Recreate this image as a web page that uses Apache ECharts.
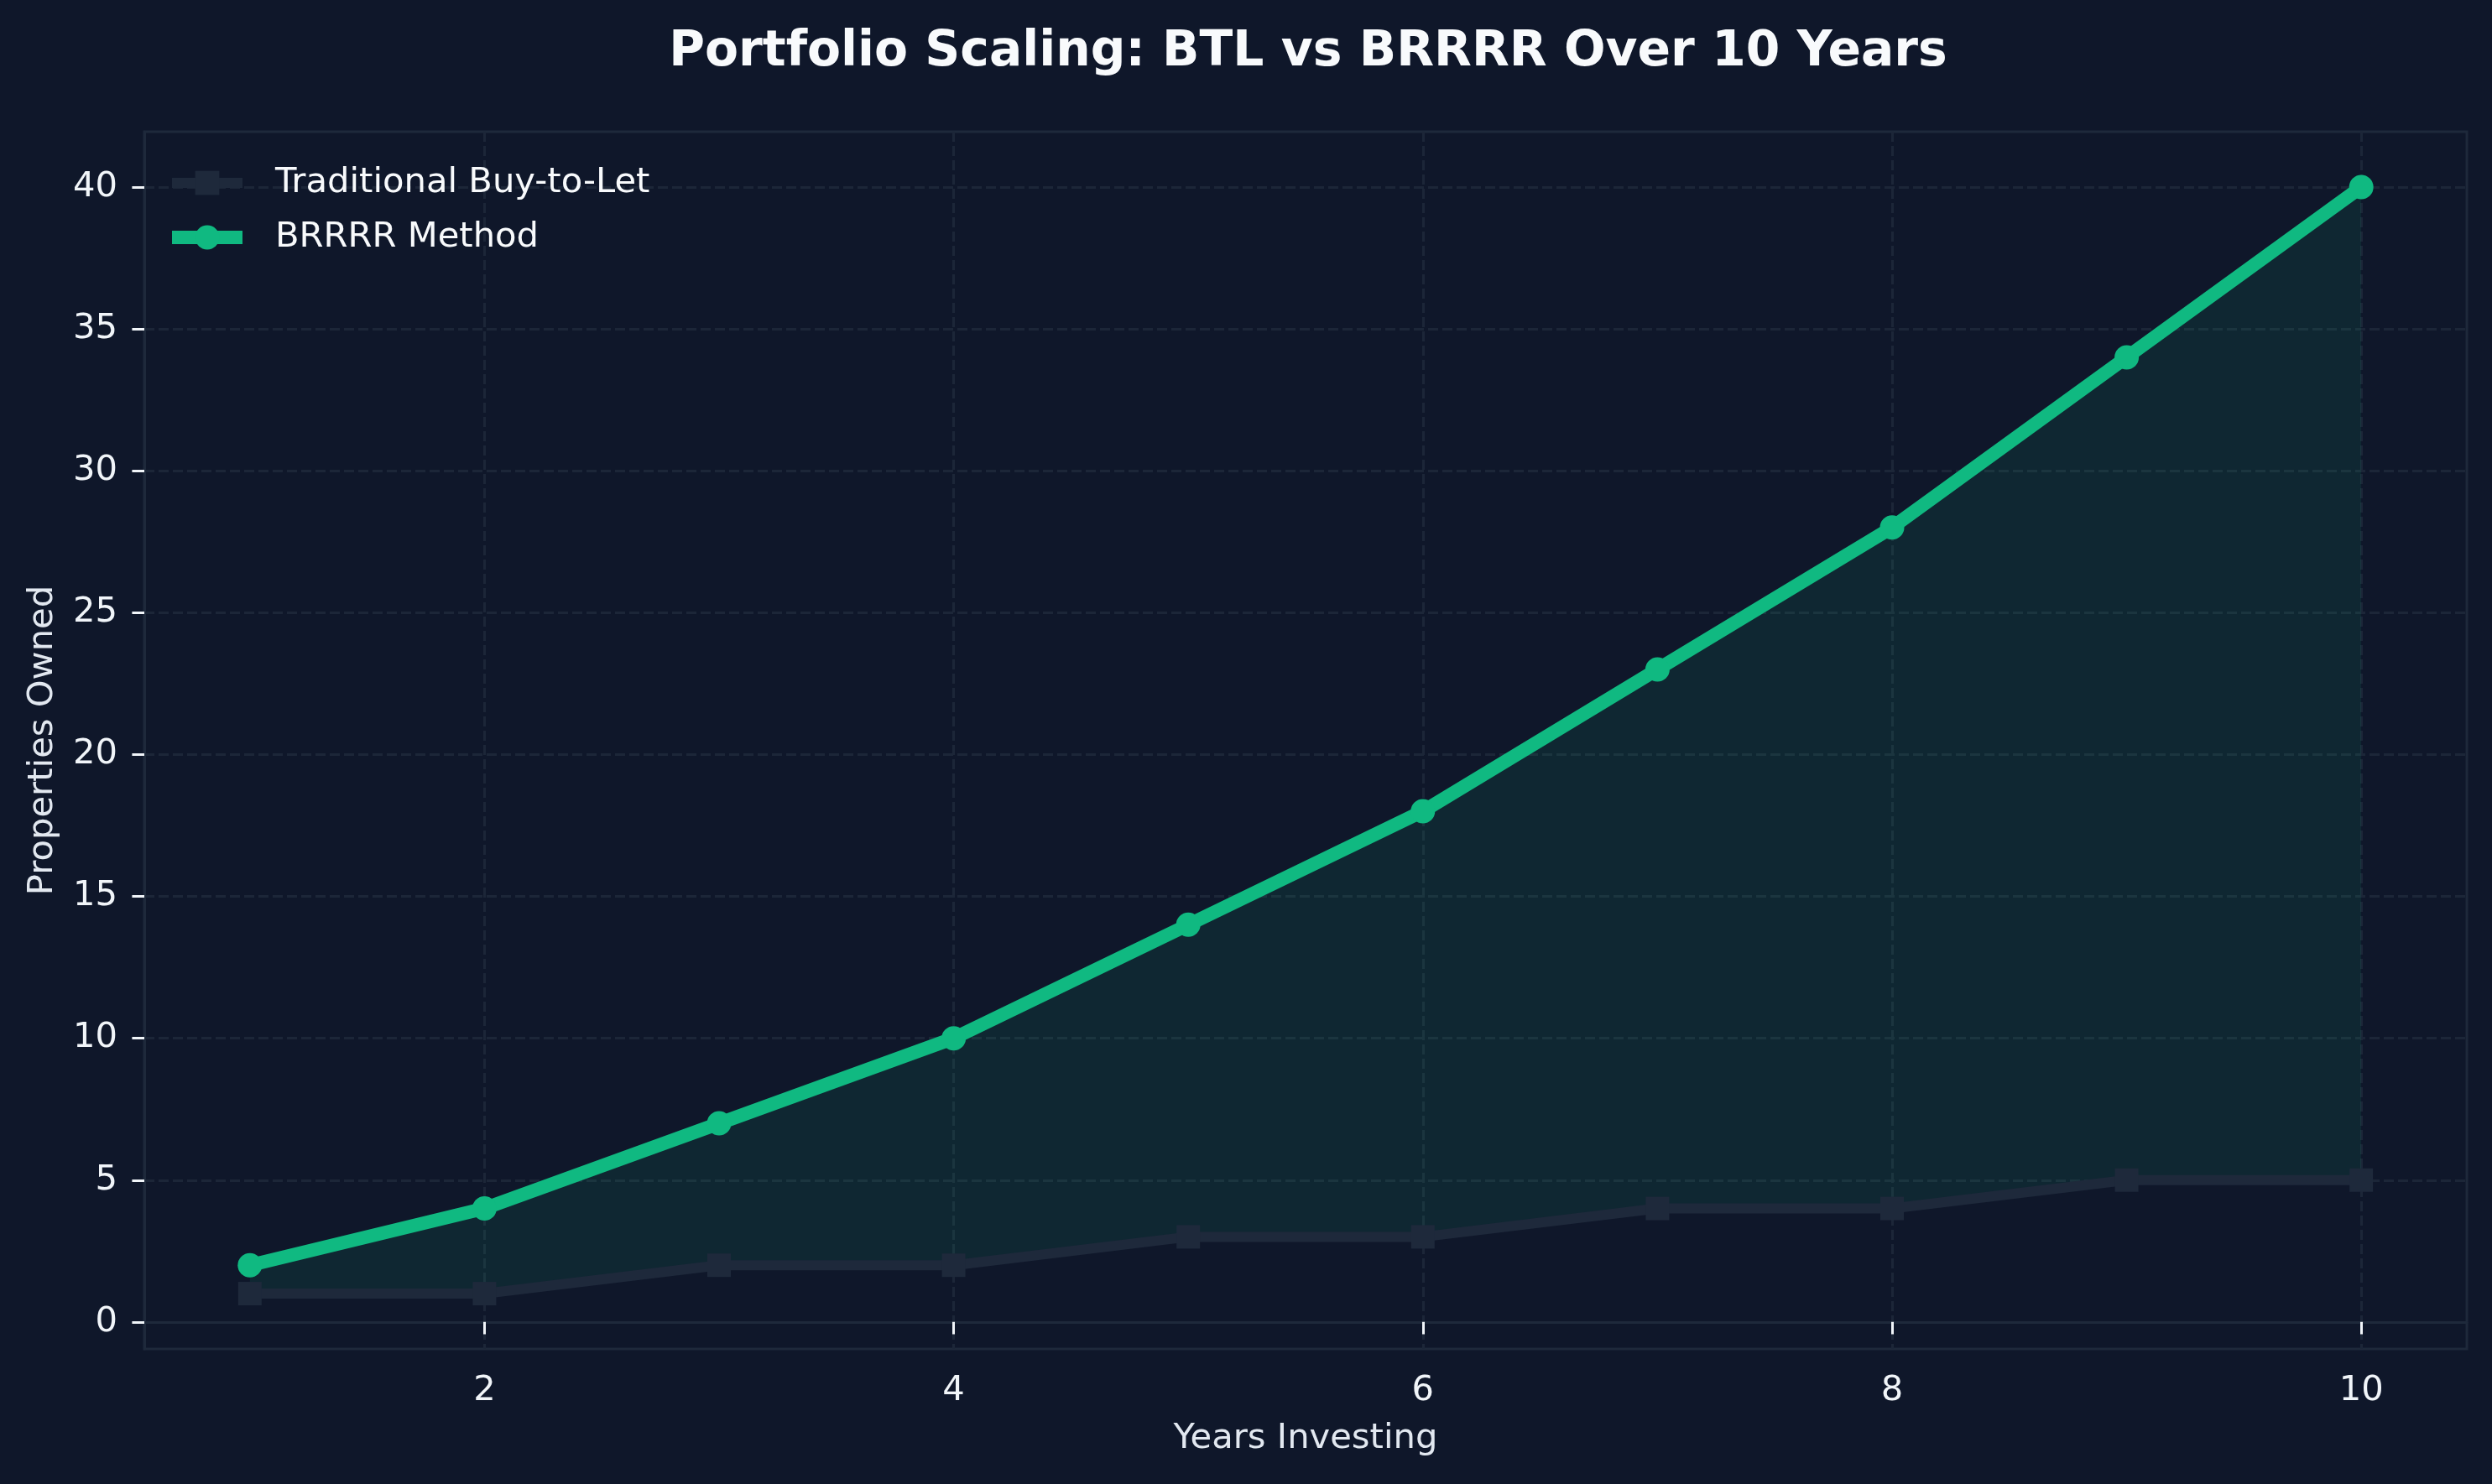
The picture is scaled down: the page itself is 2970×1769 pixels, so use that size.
<!DOCTYPE html>
<html>
<head>
<meta charset="utf-8">
<script src="https://cdn.jsdelivr.net/npm/echarts@6/dist/echarts.min.js"></script>
<style>
  html, body { margin: 0; padding: 0; background: #0f172a; }
  #chart { width: 2970px; height: 1769px; }
</style>
</head>
<body>
<div id="chart"></div>
<script>
// data
var years = [1, 2, 3, 4, 5, 6, 7, 8, 9, 10];
var btl = [1, 1, 2, 2, 3, 3, 4, 4, 5, 5];
var brrrr = [2, 4, 7, 10, 14, 18, 23, 28, 34, 40];
var xTicks = [2, 4, 6, 8, 10];
var yTicks = [0, 5, 10, 15, 20, 25, 30, 35, 40];

var FONT = 'DejaVu Sans';
var BTL_COLOR = '#1e293b';
var GREEN = '#10b981';

function pairs(ys) {
    return years.map(function (x, i) { return [x, ys[i]]; });
}

// shaded band between the two lines, built from the data through the axes
function renderBand(params, api) {
    if (params.dataIndex !== 0) return;
    var pts = [];
    for (var i = 0; i < years.length; i++) pts.push(api.coord([years[i], brrrr[i]]));
    for (var j = years.length - 1; j >= 0; j--) pts.push(api.coord([years[j], btl[j]]));
    return {
        type: 'polygon',
        shape: { points: pts },
        style: { fill: 'rgba(16,185,129,0.1)' },
        silent: true
    };
}

var chart = echarts.init(document.getElementById('chart'));
var option = {
    animation: false,
    backgroundColor: '#0f172a',
    title: {
        text: 'Portfolio Scaling: BTL vs BRRRR Over 10 Years',
        left: 1554,
        textAlign: 'center',
        top: 29,
        textStyle: { color: '#f8fafc', fontFamily: FONT, fontWeight: 'bold', fontSize: 58.3 }
    },
    legend: {
        orient: 'vertical',
        left: 192,
        top: 192,
        itemWidth: 84,
        itemHeight: 36,
        itemGap: 23,
        textStyle: { color: '#f8fafc', fontFamily: FONT, fontSize: 41.7, padding: [0, 0, 0, 34] },
        data: [
            { name: 'Traditional Buy-to-Let', lineStyle: { width: 12, color: BTL_COLOR }, itemStyle: { color: BTL_COLOR } },
            { name: 'BRRRR Method', lineStyle: { width: 16, color: GREEN }, itemStyle: { color: GREEN } }
        ]
    },
    grid: {
        left: 172, right: 30, top: 157, bottom: 161,
        show: true, borderColor: '#1e293b', borderWidth: 3
    },
    xAxis: {
        type: 'value',
        min: 0.55,
        max: 10.45,
        name: 'Years Investing',
        nameLocation: 'middle',
        nameGap: 86,
        nameTextStyle: { color: '#e2e8f0', fontFamily: FONT, fontSize: 41.7 },
        axisLine: { show: true, lineStyle: { color: '#1e293b', width: 3 } },
        axisTick: { show: true, customValues: xTicks, length: 14.6, lineStyle: { color: '#f1f5f9', width: 3 } },
        axisLabel: { customValues: xTicks, margin: 29, color: '#f1f5f9', fontFamily: FONT, fontSize: 41.7 },
        splitLine: { show: true, lineStyle: { color: '#1c2638', width: 3, type: [12, 5] } }
    },
    yAxis: {
        type: 'value',
        min: -0.95,
        max: 41.95,
        name: 'Properties Owned',
        nameLocation: 'middle',
        nameGap: 100,
        nameTextStyle: { color: '#e2e8f0', fontFamily: FONT, fontSize: 41.7 },
        axisLine: { show: true, lineStyle: { color: '#1e293b', width: 3 } },
        axisTick: { show: true, customValues: yTicks, length: 14.6, lineStyle: { color: '#f1f5f9', width: 3 } },
        axisLabel: { customValues: yTicks, margin: 32, color: '#f1f5f9', fontFamily: FONT, fontSize: 41.7 },
        splitLine: { show: true, lineStyle: { color: '#1c2638', width: 3, type: [12, 5] } }
    },
    series: [
        {
            name: 'band',
            type: 'custom',
            renderItem: renderBand,
            data: [[years[0], btl[0]]],
            silent: true,
            z: 1
        },
        {
            name: 'Traditional Buy-to-Let',
            type: 'line',
            data: pairs(btl),
            symbol: 'rect',
            symbolSize: 28,
            lineStyle: { color: BTL_COLOR, width: 12 },
            itemStyle: { color: BTL_COLOR },
            z: 3
        },
        {
            name: 'BRRRR Method',
            type: 'line',
            data: pairs(brrrr),
            symbol: 'circle',
            symbolSize: 29,
            lineStyle: { color: GREEN, width: 16 },
            itemStyle: { color: GREEN },
            z: 4
        }
    ]
};
chart.setOption(option);
</script>
</body>
</html>
